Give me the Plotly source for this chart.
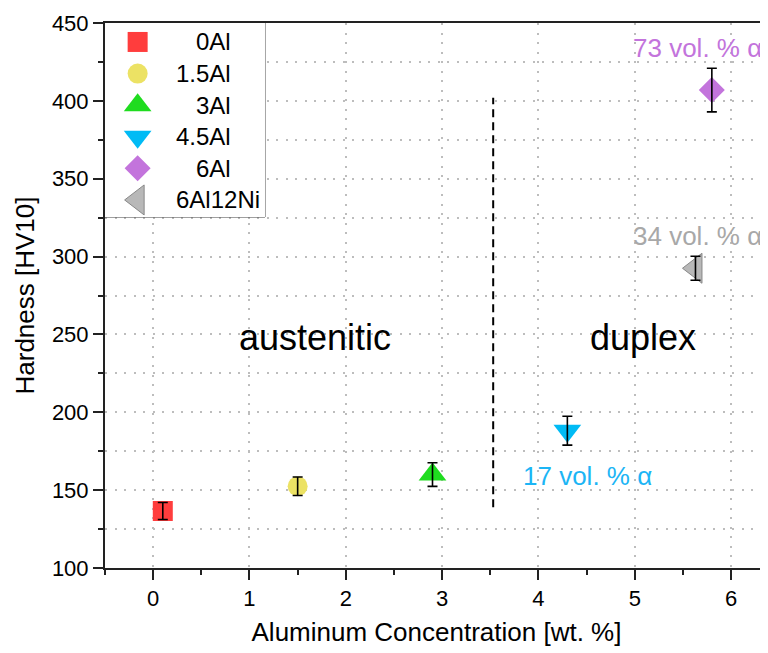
import plotly.graph_objects as go

# ---- data ----
labels = ["0Al", "1.5Al", "3Al", "4.5Al", "6Al", "6Al12Ni"]
al_conc = [0.1, 1.5, 2.9, 4.3, 5.8, 5.63]
hardness = [136.6, 152.5, 160.0, 188.2, 406.9, 292.5]
hardness_err = [5.5, 5.9, 7.6, 9.3, 14.0, 7.7]
colors = ["#ff3d3d", "#ece264", "#1fdc1f", "#00bbf5", "#c374dc", "#b8b8b8"]
symbols = ["square", "circle", "triangle-up", "triangle-down", "diamond", "triangle-left"]
sizes = [20, 20, 24, 24, 20, 26]
legend_pad = ["\u2007\u2008", "", "\u2007\u2008", "", "\u2007\u2008", ""]

boundary_x = [3.53, 3.53]
boundary_y = [139, 402]

region_labels = ["austenitic", "duplex"]
region_x = [1.684, 5.09]
region_y = [248, 248]

phase_labels = ["73 vol. % α", "34 vol. % α", "17 vol. % α"]
phase_x = [5.656, 5.656, 4.505]
phase_y = [434, 313, 159]
phase_colors = ["#c374dc", "#a8a8a8", "#1cb5f5"]

x_ticks = [0, 1, 2, 3, 4, 5, 6]
y_ticks = [100, 150, 200, 250, 300, 350, 400, 450]

X_RANGE = [-0.5, 6.383]
Y_RANGE = [100, 450]

FONT = "Arial, Liberation Sans, sans-serif"

# legend box geometry (fractions of the plot area)
LEG_X1 = 0.2413
LEG_Y0 = 0.644

fig = go.Figure()

# dashed boundary line
fig.add_trace(go.Scatter(x=boundary_x, y=boundary_y, mode="lines",
                         line=dict(color="black", width=2, dash="8px,5px"),
                         showlegend=False, hoverinfo="skip"))

for i, lab in enumerate(labels):
    fig.add_trace(go.Scatter(
        x=[al_conc[i]], y=[hardness[i]], mode="markers", name=lab,
        marker=dict(symbol=symbols[i], size=sizes[i], color=colors[i], opacity=1,
                    line=dict(width=1 if i == 5 else 0, color="#888888")),
        showlegend=False,
    ))

# error bars drawn on top of markers
for i, lab in enumerate(labels):
    fig.add_trace(go.Scatter(
        x=[al_conc[i]], y=[hardness[i]], mode="markers",
        marker=dict(size=1, color="rgba(0,0,0,0)"),
        error_y=dict(type="data", array=[hardness_err[i]], visible=True,
                     color="black", thickness=1.6, width=5),
        showlegend=False, hoverinfo="skip"))

# ---- legend (drawn on an auxiliary axis pair inside the box) ----
leg_idx = list(range(len(labels)))
fig.add_trace(go.Scatter(
    x=[0.204] * len(labels), y=leg_idx, xaxis="x2", yaxis="y2",
    mode="markers", showlegend=False, hoverinfo="skip",
    marker=dict(symbol=symbols, size=sizes, color=colors, opacity=1,
                line=dict(width=[0, 0, 0, 0, 0, 1], color="#888888")),
))
for i, lab in enumerate(labels):
    fig.add_annotation(x=0.431, y=i, xref="x2", yref="y2",
                       text=legend_pad[i] + lab, showarrow=False,
                       xanchor="left", yanchor="middle",
                       font=dict(family=FONT, size=24, color="black"))

# white legend frame: above the main gridlines, below the legend markers
fig.add_shape(type="rect", xref="x", yref="y",
              x0=X_RANGE[0], x1=X_RANGE[0] + LEG_X1 * (X_RANGE[1] - X_RANGE[0]),
              y0=Y_RANGE[0] + LEG_Y0 * (Y_RANGE[1] - Y_RANGE[0]), y1=Y_RANGE[1],
              fillcolor="white", line=dict(color="#444444", width=1),
              layer="between")

for t, x, y in zip(region_labels, region_x, region_y):
    fig.add_annotation(x=x, y=y, text=t, showarrow=False,
                       font=dict(family=FONT, size=36, color="black"),
                       xanchor="center", yanchor="middle")

for t, x, y, c in zip(phase_labels, phase_x, phase_y, phase_colors):
    fig.add_annotation(x=x, y=y, text=t, showarrow=False,
                       font=dict(family=FONT, size=26, color=c),
                       xanchor="center", yanchor="middle")

GRID = dict(gridcolor="#bdbdbd", griddash="2px,7.5px", gridwidth=1.5)

fig.update_layout(
    width=760, height=645,
    margin=dict(l=97, r=0, t=15, b=85),
    plot_bgcolor="white", paper_bgcolor="white",
    font=dict(family=FONT, color="black"),
    showlegend=False,
    xaxis=dict(
        range=X_RANGE, tickvals=x_ticks, ticktext=[str(v) for v in x_ticks],
        showline=True, linecolor="#222222", linewidth=2, mirror=True,
        ticks="outside", ticklen=10, tickwidth=2, tickcolor="#222222",
        tickfont=dict(size=22, family=FONT, color="black"),
        showgrid=True, **GRID,
        zeroline=False,
        minor=dict(dtick=0.5, ticks="outside", ticklen=5, tickwidth=2,
                   tickcolor="#222222", showgrid=False),
        title=dict(text="Aluminum Concentration [wt. %]",
                   font=dict(size=26, family=FONT, color="black"), standoff=12),
    ),
    yaxis=dict(
        range=Y_RANGE, tickvals=y_ticks, ticktext=[str(v) for v in y_ticks],
        showline=True, linecolor="#222222", linewidth=2, mirror=False,
        ticks="outside", ticklen=10, tickwidth=2, tickcolor="#222222",
        tickfont=dict(size=22, family=FONT, color="black"),
        showgrid=False, zeroline=False,
        minor=dict(dtick=25, tick0=100, ticks="outside", ticklen=5, tickwidth=2,
                   tickcolor="#222222", showgrid=True, **GRID),
        title=dict(text="Hardness [HV10]",
                   font=dict(size=26, family=FONT, color="black"), standoff=10),
    ),
    xaxis2=dict(domain=[0, LEG_X1], range=[0, 1], visible=False,
                anchor="y2", fixedrange=True),
    yaxis2=dict(domain=[LEG_Y0, 1], range=[5.54, -0.6], visible=False,
                anchor="x2", fixedrange=True),
)

fig.write_html("out.html")
